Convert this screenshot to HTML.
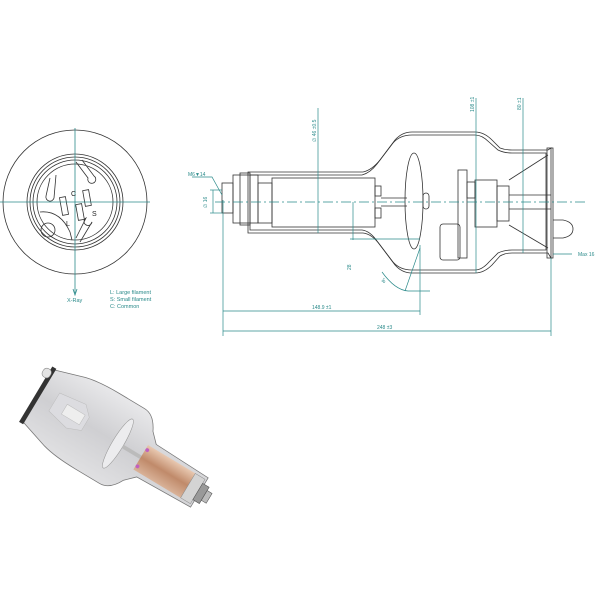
<!DOCTYPE html>
<html><head><meta charset="utf-8"><style>body{margin:0;background:#fff}svg{display:block}</style></head>
<body>
<svg width="600" height="600" viewBox="0 0 600 600" xmlns="http://www.w3.org/2000/svg" font-family="Liberation Sans, sans-serif">
<defs>
<linearGradient id="glass" x1="0" y1="0" x2="0" y2="1"><stop offset="0" stop-color="#e8e8ea"/><stop offset="0.5" stop-color="#cfcfd2"/><stop offset="1" stop-color="#e0e0e2"/></linearGradient>
<linearGradient id="cu" x1="0" y1="0" x2="0" y2="1"><stop offset="0" stop-color="#e8c8b0"/><stop offset="0.5" stop-color="#c08a6a"/><stop offset="1" stop-color="#d9b298"/></linearGradient>
</defs>
<!-- left end view -->
<g fill="none" stroke="#333" stroke-width="0.8">
<circle cx="75" cy="202" r="72"/>
<circle cx="75" cy="202" r="48"/>
<circle cx="75" cy="202" r="45"/>
<circle cx="75" cy="202" r="42"/>
<circle cx="75" cy="202" r="38"/>
<circle cx="48" cy="230" r="7"/>
<path d="M50 178 L46 196 A4 4 0 0 0 54 198 L56 175"/>
<path d="M76 162 L88 178 A4 4 0 1 0 94 176 L82 160"/>
<path d="M40 212 Q60 210 70 232 L72 240"/>
<path d="M76 238 L86 218 A4 4 0 1 0 92 222 L80 242"/>
<rect x="61" y="197" width="6" height="18" transform="rotate(-10 64 206)"/>
<rect x="77" y="204" width="6" height="16" transform="rotate(-10 80 212)"/>
<rect x="84" y="190" width="6" height="16" transform="rotate(-10 87 198)"/>
</g>
<g stroke="#2a8a8a" stroke-width="0.8" fill="none">
<line x1="75" y1="128" x2="75" y2="293"/>
<line x1="0" y1="202" x2="150" y2="202"/>
<path d="M73 289 L75 295 L77 289"/>
</g>
<g font-size="7" fill="#222">
<text x="71" y="196">C</text><text x="66" y="226">L</text><text x="92" y="216">S</text>
</g>
<g font-size="5.5" fill="#2a8a8a">
<text x="67" y="302">X-Ray</text>
<text x="110" y="294">L:  Large filament</text>
<text x="110" y="301">S:  Small filament</text>
<text x="110" y="308">C:  Common</text>
</g>
<!-- side view -->
<g fill="none" stroke="#333" stroke-width="0.8">
<path d="M248 172 L363 172 Q372 170 380 160 L395 140 Q402 132 412 132 L475 132 Q484 132 492 140 L500 148 Q505 150 512 150 L548 150 L551 148 L551 258 L548 253 L512 253 Q505 253 500 256 L492 265 Q484 273 475 273 L412 273 Q402 273 395 265 L380 245 Q372 234 363 233 L248 233 Z"/>
<path d="M250 175 L362 175 Q370 173 377 164 L393 143 Q400 135 412 135 L475 135 Q482 135 489 142 L498 150 Q504 153 512 153 L546 153 L546 250 L512 250 Q504 250 498 253 L489 262 Q482 270 475 270 L412 270 Q400 270 393 262 L377 241 Q370 231 362 230 L250 230 Z"/>
<rect x="233" y="175" width="25" height="48"/>
<rect x="240" y="173" width="10" height="52"/>
<rect x="222" y="183" width="11" height="30"/>
<rect x="258" y="183" width="14" height="40"/>
<rect x="272" y="178" width="103" height="49"/>
<rect x="375" y="186" width="6" height="10"/><rect x="375" y="208" width="6" height="10"/>
<line x1="381" y1="198" x2="407" y2="198"/><line x1="381" y1="206" x2="407" y2="206"/>
<ellipse cx="414" cy="201" rx="9" ry="48"/>
<rect x="423" y="193" width="6" height="16" rx="3"/>
<rect x="458" y="170" width="9" height="88"/>
<rect x="440" y="224" width="20" height="36" rx="3"/>
<rect x="467" y="182" width="8" height="16"/>
<rect x="475" y="180" width="22" height="47"/>
<rect x="497" y="186" width="12" height="35"/>
<line x1="509" y1="195" x2="551" y2="195"/><line x1="509" y1="209" x2="551" y2="209"/>
<line x1="509" y1="180" x2="548" y2="155"/><line x1="509" y1="225" x2="548" y2="248"/>
<rect x="547" y="148" width="6" height="110"/>
<path d="M553 220 L563 220 Q573 222 573 229 Q573 236 563 238 L553 238"/>
</g>
<g stroke="#2a8a8a" stroke-width="0.7" fill="none">
<line x1="215" y1="202" x2="585" y2="202" stroke-dasharray="10 3 2 3"/>
<line x1="318" y1="108" x2="318" y2="233"/>
<line x1="476" y1="98" x2="476" y2="273"/>
<line x1="523" y1="98" x2="523" y2="253"/>
<line x1="353" y1="202" x2="353" y2="240"/><line x1="350" y1="239" x2="420" y2="239"/>
<line x1="223" y1="200" x2="223" y2="336"/>
<line x1="420" y1="245" x2="420" y2="315"/>
<line x1="551" y1="258" x2="551" y2="336"/>
<line x1="223" y1="311" x2="420" y2="311"/>
<line x1="223" y1="331" x2="551" y2="331"/>
<line x1="210" y1="190" x2="222" y2="190"/><line x1="210" y1="213" x2="222" y2="213"/><line x1="213" y1="190" x2="213" y2="213"/>
<path d="M192 177 L212 177 L222 195"/>
<line x1="553" y1="254" x2="572" y2="254"/>
<path d="M382 272 Q395 290 408 291 L430 291"/>
<line x1="405" y1="291" x2="420" y2="248"/>
</g>
<g font-size="5" fill="#2a8a8a">
<text x="188" y="176">M6▼14</text>
<text transform="translate(207 208) rotate(-90)">∅ 16</text>
<text transform="translate(316 142) rotate(-90)">∅ 46 ±0.5</text>
<text transform="translate(474 112) rotate(-90)">108 ±1</text>
<text transform="translate(521 110) rotate(-90)">80 ±1</text>
<text transform="translate(351 270) rotate(-90)">28</text>
<text x="380" y="280" transform="rotate(-60 385 278)">8°</text>
<text x="312" y="309">148.9 ±1</text>
<text x="377" y="329">248 ±3</text>
<text x="578" y="256">Max 16</text>
</g>
<!-- photo -->
<g transform="translate(122 446) rotate(31) scale(0.95)">
<path d="M-102 -32 L-70 -42 Q-55 -46 -30 -46 L0 -46 Q12 -46 20 -30 L30 -20 L95 -18 L95 18 L30 20 L20 30 Q12 46 0 46 L-30 46 Q-55 46 -70 42 L-102 32 Z" fill="url(#glass)" stroke="#777" stroke-width="0.8"/>
<rect x="-106" y="-34" width="5" height="68" fill="#333"/>
<rect x="-112" y="-30" width="9" height="10" rx="4" fill="#e4e4e4" stroke="#888" stroke-width="0.6"/>
<path d="M-85 -14 L-55 -18 L-45 -8 L-45 8 L-60 14 L-85 8 Z" fill="#dcdce0" stroke="#bbb" stroke-width="0.5"/>
<rect x="-72" y="-8" width="22" height="12" fill="#eee" stroke="#bbb" stroke-width="0.5"/>
<ellipse cx="-5" cy="0" rx="6" ry="30" fill="#ececee" stroke="#999" stroke-width="0.6"/>
<rect x="1" y="-2" width="22" height="4" fill="#bbb"/>
<rect x="23" y="-15" width="58" height="30" fill="url(#cu)"/>
<circle cx="25" cy="-10" r="2" fill="#c060c0"/><circle cx="25" cy="10" r="2" fill="#c060c0"/>
<rect x="81" y="-15" width="12" height="30" fill="#d4d4d4" stroke="#888" stroke-width="0.5"/>
<rect x="93" y="-10" width="8" height="20" fill="#999" stroke="#555" stroke-width="0.6"/>
<rect x="101" y="-6" width="6" height="12" fill="#bbb" stroke="#555" stroke-width="0.6"/>
</g>
</svg>
</body></html>
